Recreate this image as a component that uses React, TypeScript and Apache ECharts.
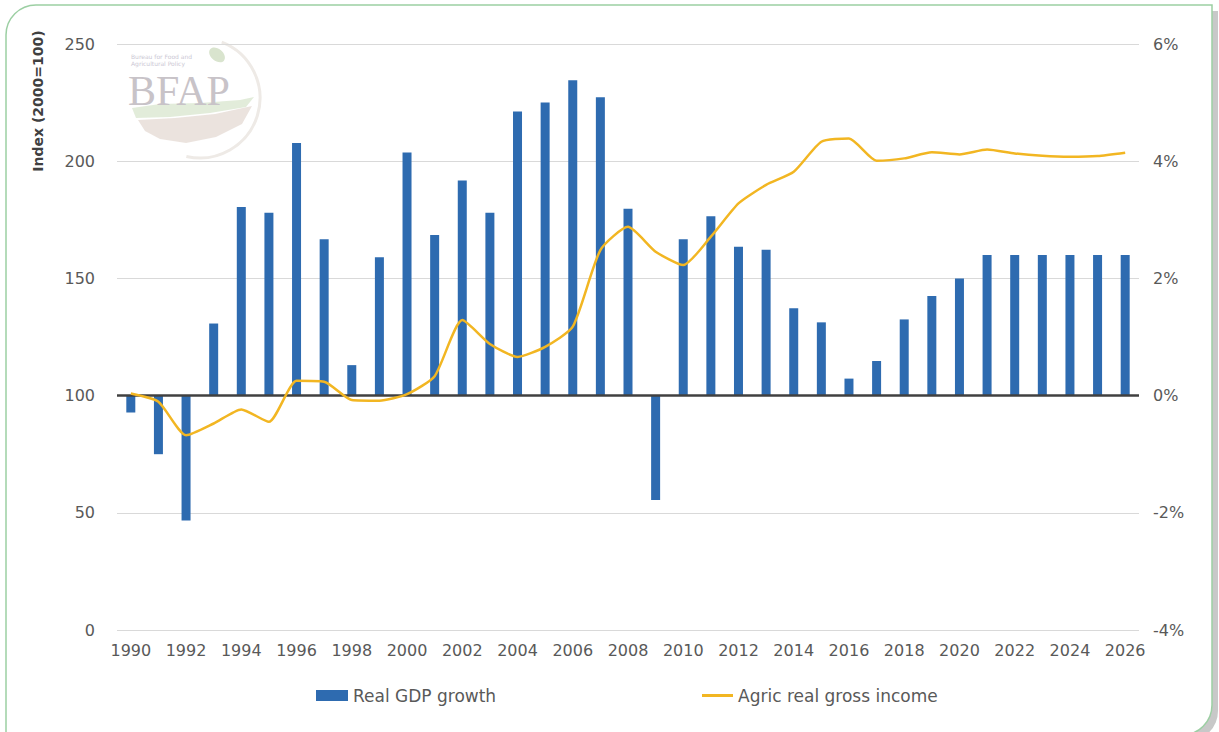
import React, { useEffect, useRef } from "react";
import * as echarts from "echarts";

const years: string[] = [
  "1990","1991","1992","1993","1994","1995","1996","1997","1998","1999",
  "2000","2001","2002","2003","2004","2005","2006","2007","2008","2009",
  "2010","2011","2012","2013","2014","2015","2016","2017","2018","2019",
  "2020","2021","2022","2023","2024","2025","2026",
];

// Real GDP growth, % (right axis)
const gdpGrowth: number[] = [
  -0.29, -1.0, -2.13, 1.23, 3.22, 3.12, 4.31, 2.67, 0.52, 2.36,
  4.15, 2.74, 3.67, 3.12, 4.85, 5.0, 5.38, 5.09, 3.19, -1.78,
  2.67, 3.06, 2.54, 2.49, 1.49, 1.25, 0.29, 0.59, 1.3, 1.7,
  2.0, 2.4, 2.4, 2.4, 2.4, 2.4, 2.4,
];

// Agric real gross income, index 2000=100 (left axis)
const agricIncome: number[] = [
  100.9, 97.4, 83.1, 88.1, 94.1, 88.8, 106.3, 105.9, 98.1, 97.8,
  100.6, 108.3, 132.2, 122.0, 116.5, 120.8, 129.4, 162.1, 172.0, 161.4,
  155.7, 167.8, 182.0, 189.9, 195.5, 208.3, 209.7, 200.2, 201.2, 203.8,
  202.9, 205.0, 203.3, 202.3, 201.9, 202.2, 203.6,
];

const leftTicks = { min: 0, max: 250, interval: 50 };
const rightTicks = { min: -4, max: 6, interval: 2 };

const FONT = "'DejaVu Sans', sans-serif";
const TXT = "#595959";

export default function App() {
  const ref = useRef<HTMLDivElement>(null);

  useEffect(() => {
    if (!ref.current) return;
    const chart = echarts.init(ref.current, undefined, { renderer: "svg" });
    chart.setOption({
      animation: false,
      backgroundColor: "#ffffff",
      textStyle: { fontFamily: FONT },
      graphic: [
        {
          type: "rect",
          z: -10,
          silent: true,
          shape: { x: 12, y: 11, width: 1206, height: 730, r: [30, 0, 30, 0] },
          style: { fill: "#c8c8c8" },
        },
        {
          type: "rect",
          z: -9,
          silent: true,
          shape: { x: 6, y: 5, width: 1206, height: 730, r: [30, 0, 30, 0] },
          style: { fill: "#ffffff", stroke: "#9ccfa3", lineWidth: 1.5 },
        },
        {
          type: "group",
          z: -5,
          silent: true,
          children: [
            {
              type: "polygon",
              shape: {
                points: [[138, 120], [175, 118], [215, 114], [252, 106], [242, 124], [216, 137], [186, 143], [160, 139], [145, 131]],
              },
              style: { fill: "#e9e0da", opacity: 0.9 },
            },
            {
              type: "polygon",
              shape: {
                points: [[132, 108], [160, 104], [200, 103], [240, 100], [254, 97], [246, 107], [210, 113], [170, 117], [136, 118]],
              },
              style: { fill: "#dfeAd6", opacity: 0.9 },
            },
            {
              type: "arc",
              shape: { cx: 200, cy: 98, r: 60, startAngle: -1.2, endAngle: 1.8 },
              style: { stroke: "#eeeae6", lineWidth: 3, fill: "none" },
            },
            {
              type: "ellipse",
              rotation: -0.7,
              originX: 217,
              originY: 55,
              shape: { cx: 217, cy: 55, rx: 9, ry: 6 },
              style: { fill: "#d9e4ce" },
            },
            {
              type: "text",
              style: {
                x: 131, y: 53, text: "Bureau for Food and\nAgricultural Policy",
                fontSize: 6, lineHeight: 7, fill: "#cbc8d4", fontFamily: FONT,
              },
            },
            {
              type: "text",
              style: {
                x: 128, y: 70, text: "BFAP", fontSize: 42,
                fontFamily: "'Liberation Serif', 'DejaVu Serif', serif",
                fill: "#c8c3c8",
              },
            },
          ],
        },
        {
          type: "text",
          x: 38,
          y: 101,
          rotation: Math.PI / 2,
          style: {
            text: "Index (2000=100)",
            fontSize: 14,
            fontWeight: "bold",
            fill: "#404040",
            fontFamily: FONT,
            align: "center",
            verticalAlign: "middle",
          },
        },
      ],
      grid: { left: 117, right: 80, top: 44, bottom: 102, containLabel: false },
      legend: [
        {
          data: [{ name: "Real GDP growth", icon: "rect" }],
          left: 311,
          top: 682,
          itemWidth: 32,
          itemHeight: 11,
          itemGap: 4,
          textStyle: { color: TXT, fontSize: 17, fontFamily: FONT },
        },
        {
          data: [{ name: "Agric real gross income", icon: "rect", itemStyle: { color: "#f2b622" } }],
          left: 697,
          top: 682,
          itemWidth: 31,
          itemHeight: 3,
          textStyle: { color: TXT, fontSize: 17, fontFamily: FONT },
        },
      ],
      xAxis: {
        type: "category",
        data: years,
        boundaryGap: true,
        axisLine: { show: false },
        axisTick: { show: false },
        axisLabel: {
          interval: 1,
          color: TXT,
          fontSize: 16,
          fontFamily: FONT,
          margin: 12,
        },
      },
      yAxis: [
        {
          type: "value",
          min: leftTicks.min,
          max: leftTicks.max,
          interval: leftTicks.interval,
          axisLine: { show: false },
          axisTick: { show: false },
          axisLabel: { color: TXT, fontSize: 16, fontFamily: FONT, margin: 22 },
          splitLine: { lineStyle: { color: "#d9d9d9", width: 1 } },
        },
        {
          type: "value",
          min: rightTicks.min,
          max: rightTicks.max,
          interval: rightTicks.interval,
          position: "right",
          axisLine: { show: false },
          axisTick: { show: false },
          axisLabel: {
            color: TXT,
            fontSize: 16,
            fontFamily: FONT,
            margin: 14,
            formatter: "{value}%",
          },
          splitLine: { show: false },
        },
      ],
      series: [
        {
          name: "Real GDP growth",
          type: "bar",
          yAxisIndex: 1,
          data: gdpGrowth,
          barWidth: 9,
          itemStyle: { color: "#2e6bb0" },
          markLine: {
            silent: true,
            symbol: ["none", "none"],
            label: { show: false },
            lineStyle: { color: "#404040", width: 2.5, type: "solid" },
            data: [{ yAxis: 0 }],
          },
        },
        {
          name: "Agric real gross income",
          type: "line",
          yAxisIndex: 0,
          data: agricIncome,
          symbol: "none",
          smooth: 0.2,
          lineStyle: { color: "#f2b622", width: 2.5 },
          itemStyle: { color: "#f2b622" },
          z: 5,
        },
      ],
    });
    return () => chart.dispose();
  }, []);

  return (
    <div
      ref={ref}
      style={{ position: "fixed", left: 0, top: 0, width: 1219, height: 732 }}
    />
  );
}
